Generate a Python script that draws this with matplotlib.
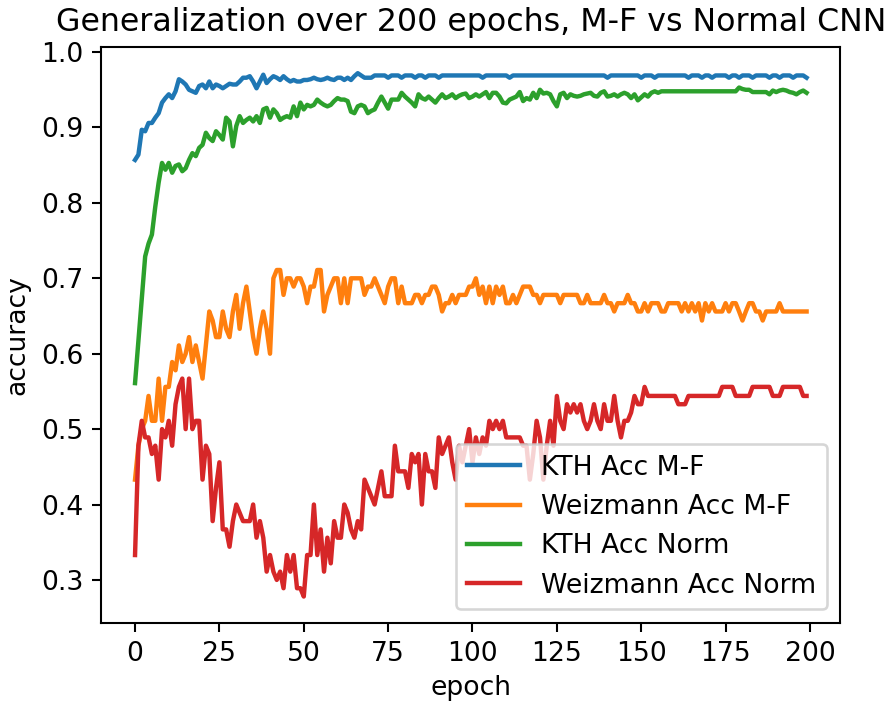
import matplotlib
matplotlib.use('Agg')
import matplotlib.pyplot as plt

# accuracy per epoch
kth_mf = [
    0.857, 0.864, 0.897, 0.895, 0.906, 0.906, 0.913, 0.919, 0.933, 0.939,
    0.944, 0.939, 0.948, 0.964, 0.961, 0.957, 0.950, 0.948, 0.946, 0.955,
    0.957, 0.952, 0.961, 0.952, 0.957, 0.955, 0.952, 0.955, 0.958, 0.957,
    0.957, 0.961, 0.966, 0.966, 0.968, 0.961, 0.952, 0.961, 0.970, 0.959,
    0.964, 0.968, 0.966, 0.963, 0.968, 0.964, 0.961, 0.963, 0.961, 0.961,
    0.963, 0.963, 0.964, 0.966, 0.964, 0.963, 0.964, 0.966, 0.964, 0.963,
    0.966, 0.966, 0.963, 0.966, 0.963, 0.968, 0.972, 0.969, 0.966, 0.966,
    0.966, 0.969, 0.969, 0.969, 0.969, 0.966, 0.969, 0.969, 0.969, 0.966,
    0.969, 0.969, 0.969, 0.966, 0.969, 0.969, 0.966, 0.969, 0.969, 0.969,
    0.966, 0.969, 0.969, 0.969, 0.969, 0.969, 0.969, 0.969, 0.969, 0.969,
    0.969, 0.969, 0.969, 0.966, 0.969, 0.969, 0.969, 0.969, 0.969, 0.969,
    0.969, 0.966, 0.969, 0.969, 0.969, 0.969, 0.969, 0.969, 0.969, 0.969,
    0.969, 0.969, 0.969, 0.969, 0.969, 0.969, 0.969, 0.969, 0.969, 0.969,
    0.969, 0.969, 0.969, 0.969, 0.969, 0.969, 0.969, 0.969, 0.969, 0.969,
    0.966, 0.969, 0.969, 0.969, 0.969, 0.969, 0.969, 0.969, 0.969, 0.969,
    0.966, 0.969, 0.969, 0.969, 0.966, 0.969, 0.969, 0.969, 0.969, 0.969,
    0.969, 0.969, 0.969, 0.969, 0.966, 0.969, 0.969, 0.969, 0.966, 0.969,
    0.969, 0.966, 0.969, 0.969, 0.969, 0.969, 0.966, 0.969, 0.969, 0.966,
    0.969, 0.969, 0.969, 0.966, 0.969, 0.969, 0.969, 0.969, 0.966, 0.969,
    0.969, 0.966, 0.969, 0.969, 0.969, 0.966, 0.969, 0.969, 0.969, 0.966,
]

weiz_mf = [
    0.433, 0.478, 0.500, 0.511, 0.544, 0.511, 0.511, 0.567, 0.511, 0.556,
    0.556, 0.589, 0.578, 0.611, 0.589, 0.600, 0.622, 0.589, 0.611, 0.589,
    0.567, 0.611, 0.656, 0.644, 0.622, 0.622, 0.656, 0.633, 0.622, 0.656,
    0.678, 0.633, 0.667, 0.689, 0.656, 0.622, 0.600, 0.633, 0.656, 0.633,
    0.600, 0.700, 0.711, 0.711, 0.678, 0.700, 0.700, 0.689, 0.700, 0.700,
    0.689, 0.667, 0.689, 0.689, 0.711, 0.711, 0.656, 0.678, 0.689, 0.700,
    0.700, 0.667, 0.700, 0.667, 0.700, 0.700, 0.700, 0.700, 0.678, 0.689,
    0.689, 0.700, 0.689, 0.678, 0.667, 0.689, 0.700, 0.700, 0.667, 0.689,
    0.667, 0.667, 0.667, 0.678, 0.678, 0.667, 0.678, 0.678, 0.689, 0.689,
    0.678, 0.656, 0.667, 0.667, 0.678, 0.667, 0.678, 0.678, 0.678, 0.689,
    0.689, 0.700, 0.678, 0.689, 0.667, 0.689, 0.667, 0.689, 0.678, 0.689,
    0.667, 0.667, 0.678, 0.667, 0.678, 0.689, 0.689, 0.689, 0.678, 0.678,
    0.667, 0.678, 0.678, 0.678, 0.678, 0.678, 0.667, 0.678, 0.678, 0.678,
    0.678, 0.678, 0.667, 0.667, 0.678, 0.667, 0.667, 0.667, 0.667, 0.678,
    0.667, 0.667, 0.656, 0.667, 0.667, 0.667, 0.678, 0.667, 0.667, 0.656,
    0.656, 0.667, 0.656, 0.667, 0.667, 0.667, 0.656, 0.656, 0.667, 0.667,
    0.667, 0.667, 0.656, 0.667, 0.656, 0.667, 0.656, 0.667, 0.644, 0.667,
    0.656, 0.667, 0.656, 0.656, 0.656, 0.667, 0.656, 0.667, 0.667, 0.656,
    0.644, 0.656, 0.667, 0.667, 0.656, 0.656, 0.644, 0.656, 0.656, 0.656,
    0.656, 0.667, 0.656, 0.656, 0.656, 0.656, 0.656, 0.656, 0.656, 0.656,
]

kth_norm = [
    0.561, 0.617, 0.673, 0.729, 0.746, 0.758, 0.795, 0.827, 0.853, 0.844,
    0.853, 0.840, 0.849, 0.851, 0.842, 0.846, 0.857, 0.866, 0.862, 0.873,
    0.877, 0.893, 0.886, 0.882, 0.895, 0.890, 0.884, 0.913, 0.908, 0.875,
    0.902, 0.915, 0.906, 0.910, 0.913, 0.908, 0.915, 0.906, 0.924, 0.926,
    0.913, 0.924, 0.919, 0.910, 0.913, 0.915, 0.913, 0.928, 0.915, 0.933,
    0.924, 0.930, 0.928, 0.930, 0.937, 0.933, 0.930, 0.928, 0.930, 0.935,
    0.939, 0.937, 0.937, 0.935, 0.921, 0.919, 0.928, 0.930, 0.928, 0.919,
    0.922, 0.924, 0.933, 0.941, 0.933, 0.925, 0.937, 0.937, 0.937, 0.946,
    0.941, 0.937, 0.933, 0.928, 0.944, 0.939, 0.937, 0.941, 0.937, 0.933,
    0.939, 0.944, 0.939, 0.941, 0.944, 0.939, 0.942, 0.944, 0.945, 0.939,
    0.941, 0.944, 0.941, 0.944, 0.947, 0.939, 0.946, 0.946, 0.941, 0.933,
    0.932, 0.937, 0.939, 0.941, 0.947, 0.935, 0.939, 0.937, 0.946, 0.939,
    0.950, 0.945, 0.946, 0.944, 0.935, 0.928, 0.944, 0.946, 0.939, 0.944,
    0.942, 0.941, 0.942, 0.944, 0.945, 0.946, 0.942, 0.941, 0.946, 0.948,
    0.941, 0.942, 0.944, 0.941, 0.944, 0.946, 0.944, 0.939, 0.944, 0.936,
    0.940, 0.944, 0.941, 0.946, 0.948, 0.946, 0.948, 0.948, 0.948, 0.948,
    0.948, 0.948, 0.948, 0.948, 0.948, 0.948, 0.948, 0.948, 0.948, 0.948,
    0.948, 0.948, 0.948, 0.948, 0.948, 0.948, 0.948, 0.948, 0.948, 0.953,
    0.951, 0.950, 0.950, 0.947, 0.947, 0.947, 0.947, 0.947, 0.944, 0.949,
    0.947, 0.949, 0.950, 0.949, 0.947, 0.946, 0.944, 0.947, 0.949, 0.946,
]

weiz_norm = [
    0.333, 0.478, 0.511, 0.489, 0.489, 0.467, 0.478, 0.433, 0.500, 0.489,
    0.511, 0.478, 0.533, 0.556, 0.567, 0.500, 0.567, 0.500, 0.511, 0.511,
    0.433, 0.478, 0.467, 0.378, 0.422, 0.456, 0.367, 0.367, 0.344, 0.378,
    0.400, 0.389, 0.378, 0.378, 0.378, 0.400, 0.356, 0.378, 0.356, 0.311,
    0.333, 0.311, 0.300, 0.311, 0.289, 0.333, 0.311, 0.333, 0.289, 0.289,
    0.278, 0.333, 0.333, 0.400, 0.333, 0.367, 0.311, 0.356, 0.322, 0.378,
    0.356, 0.356, 0.400, 0.389, 0.367, 0.356, 0.378, 0.367, 0.433, 0.422,
    0.411, 0.400, 0.422, 0.444, 0.411, 0.411, 0.411, 0.478, 0.444, 0.444,
    0.444, 0.422, 0.467, 0.456, 0.467, 0.400, 0.467, 0.444, 0.444, 0.422,
    0.489, 0.467, 0.478, 0.489, 0.456, 0.433, 0.478, 0.456, 0.478, 0.500,
    0.456, 0.489, 0.467, 0.489, 0.478, 0.511, 0.500, 0.511, 0.500, 0.511,
    0.489, 0.489, 0.489, 0.489, 0.489, 0.478, 0.478, 0.433, 0.467, 0.511,
    0.489, 0.433, 0.478, 0.511, 0.478, 0.544, 0.511, 0.500, 0.533, 0.522,
    0.533, 0.522, 0.533, 0.511, 0.500, 0.511, 0.533, 0.511, 0.500, 0.533,
    0.511, 0.511, 0.544, 0.511, 0.489, 0.511, 0.511, 0.522, 0.544, 0.533,
    0.533, 0.556, 0.544, 0.544, 0.544, 0.544, 0.544, 0.544, 0.544, 0.544,
    0.544, 0.533, 0.533, 0.533, 0.544, 0.544, 0.544, 0.544, 0.544, 0.544,
    0.544, 0.544, 0.544, 0.544, 0.556, 0.556, 0.556, 0.556, 0.544, 0.544,
    0.544, 0.544, 0.544, 0.556, 0.556, 0.556, 0.556, 0.556, 0.556, 0.544,
    0.544, 0.544, 0.556, 0.556, 0.556, 0.556, 0.556, 0.556, 0.544, 0.544,
]

labels = ['KTH Acc M-F', 'Weizmann Acc M-F', 'KTH Acc Norm', 'Weizmann Acc Norm']
epochs = list(range(len(kth_mf)))

plt.rcParams['font.size'] = 10.25

dpi = 187
fig = plt.figure(figsize=(890 / dpi, 702 / dpi), dpi=dpi)
ax = fig.add_axes([0.114, 0.113, 0.830, 0.820])

for series, lab in zip([kth_mf, weiz_mf, kth_norm, weiz_norm], labels):
    ax.plot(epochs, series, label=lab, linewidth=1.7)

ax.set_title('Generalization over 200 epochs, M-F vs Normal CNN', fontsize=12.2)
ax.set_xlabel('epoch', labelpad=3.2)
ax.set_ylabel('accuracy')
ax.legend(loc='lower right')

fig.savefig('out.png', dpi=dpi)
